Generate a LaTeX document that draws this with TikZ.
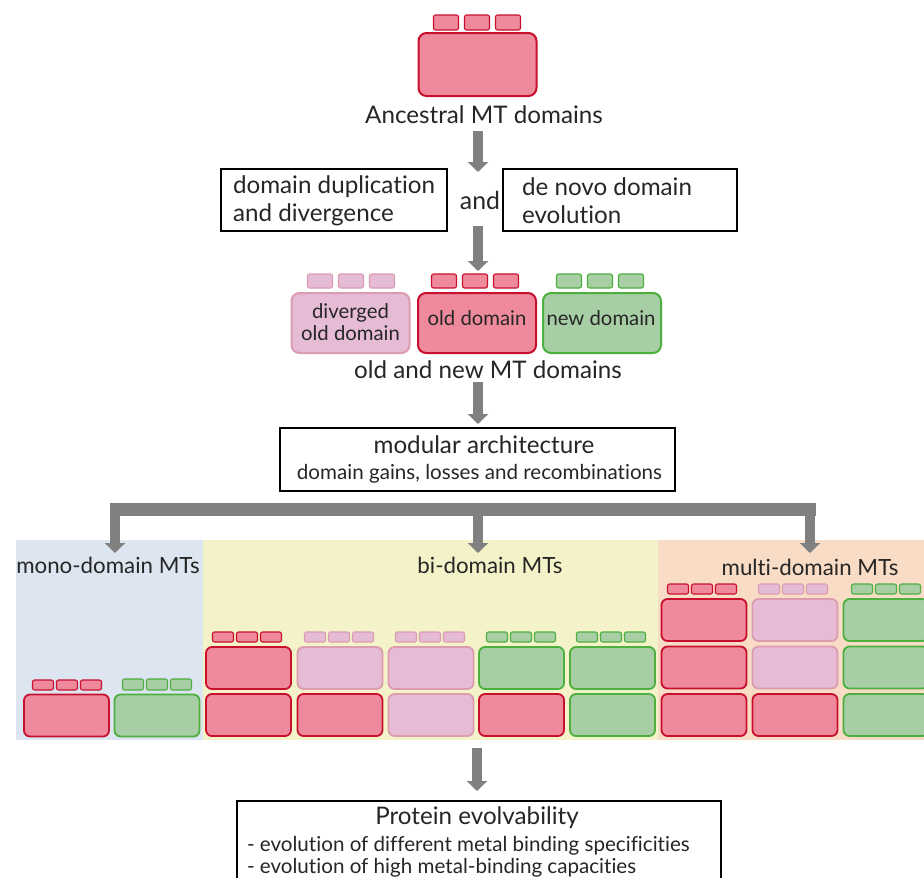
\documentclass[tikz,border=0pt]{standalone}
\usepackage{fontspec}
\setmainfont{Lato}[Ligatures=NoCommon]
\usetikzlibrary{arrows.meta}
\definecolor{redF}{HTML}{EE8A9C}
\definecolor{redD}{HTML}{C8102E}
\definecolor{pinkF}{HTML}{E6BBD6}
\definecolor{pinkD}{HTML}{DC9CB0}
\definecolor{greenF}{HTML}{A7CEA5}
\definecolor{greenD}{HTML}{4CAF3E}
\definecolor{arrowG}{HTML}{808080}
\definecolor{panelB}{HTML}{DCE5F0}
\definecolor{panelY}{HTML}{F4F2C8}
\definecolor{panelO}{HTML}{F9DCC6}
\definecolor{txt}{HTML}{262626}
\newcommand{\tabrow}[6]{%
  \foreach \k in {-1,0,1}{%
    \path[tabb,#1] ({#2+\k*(#4+#6)-0.5*#4},{#3}) rectangle ({#2+\k*(#4+#6)+0.5*#4},{#3-#5});
  }}
\newcommand{\cellat}[4]{\node[cellb,#1] (#2) at (#3,#4) {};}
\begin{document}
\begin{tikzpicture}[x=1pt,y=-1pt,
  every node/.style={inner sep=0pt, outer sep=0pt, text=txt},
  big/.style={line width=2pt, rounded corners=8pt, minimum width=118pt, minimum height=60pt, align=center, font=\fontsize{20.3}{22}\selectfont},
  cellb/.style={line width=1.8pt, rounded corners=6pt, minimum width=85pt, minimum height=42pt},
  tabb/.style={line width=1.1pt, rounded corners=2pt},
  cred/.style={draw=redD, fill=redF},
  cpink/.style={draw=pinkD, fill=pinkF},
  cgreen/.style={draw=greenD, fill=greenF},
  frame/.style={draw=black, line width=1.6pt},
  garrow/.style={draw=arrowG, line width=10pt, -{Triangle[width=20pt,length=10pt]}},
  lbl/.style={font=\fontsize{24.2}{28}\selectfont},
  plbl/.style={font=\fontsize{22.3}{26}\selectfont},
  small/.style={font=\fontsize{20.6}{23}\selectfont},
  intext/.style={font=\fontsize{20.3}{22}\selectfont},
]
\useasboundingbox (0,0) rectangle (924,878);
\clip (0,0) rectangle (924,878);
\fill[white] (0,0) rectangle (924,878);

% panels
\fill[panelB] (16,540) rectangle (203,740);
\fill[panelY] (203,540) rectangle (658,740);
\fill[panelO] (658,540) rectangle (924,740);

% ancestral
\tabrow{cred}{477}{30}{25}{15}{6}
\node[big, cred, minimum height=63pt] (anc) at (477.5,64.5) {};
\node[lbl] (ancl) at (484,115) {Ancestral MT domains};

\coordinate (a1s) at (478,131);
\coordinate (a1e) at (478,172);
\draw[garrow] (a1s) -- (a1e);

% process boxes
\node[frame, minimum width=226pt, minimum height=62pt] (dup) at (334,200) {};
\node[lbl, align=left, anchor=west] (dupt) at (233,201) {domain duplication\\and divergence};
\node[lbl, font=\fontsize{24.8}{28}\selectfont] (andl) at (480,200) {and};
\node[frame, minimum width=234pt, minimum height=62pt] (novo) at (620,200) {};
\node[lbl, align=left, anchor=west] (novot) at (522,201) {de novo domain\\evolution};

\coordinate (a2s) at (478,226);
\coordinate (a2e) at (478,271);
\draw[garrow] (a2s) -- (a2e);

% old and new domains
\tabrow{cpink}{351}{288}{25}{14}{6}
\node[big,cpink] (div) at (350.5,323) {};
\node[intext, align=center] (divt) at (350.5,322) {diverged\\old domain};
\tabrow{cred}{475}{288}{25}{14}{6}
\node[big,cred] (old) at (477,323) {};
\node[intext] (oldt) at (477,318) {old domain};
\tabrow{cgreen}{600}{288}{25}{14}{6}
\node[big,cgreen] (new) at (602,323) {};
\node[intext] (newt) at (601,318) {new domain};
\node[lbl] (onl) at (488,370) {old and new MT domains};

\coordinate (a3s) at (478,382);
\coordinate (a3e) at (478,424);
\draw[garrow] (a3s) -- (a3e);

% modular box
\node[frame, minimum width=395pt, minimum height=63pt] (mod) at (477.5,459.5) {};
\node[lbl] (modt) at (484,445) {modular architecture};
\node[small] (mods) at (479.5,474) {domain gains, losses and recombinations};

% branching connector
\coordinate (bl) at (109.5,509.5);
\coordinate (br) at (815.5,509.5);
\draw[arrowG, line width=13pt] (bl) -- (br);
\coordinate (d1s) at (115,509.5);
\coordinate (d1e) at (115,553);
\coordinate (d2s) at (478,509.5);
\coordinate (d2e) at (478,553);
\coordinate (d3s) at (810,509.5);
\coordinate (d3e) at (810,553);
\draw[garrow] (d1s) -- (d1e);
\draw[garrow] (d2s) -- (d2e);
\draw[garrow] (d3s) -- (d3e);

% panel labels
\node[plbl] (monol) at (108,565) {mono-domain MTs};
\node[plbl] (bil) at (490,565) {bi-domain MTs};
\node[plbl] (multil) at (810,567) {multi-domain MTs};

% mono-domain
\tabrow{cred}{67}{690}{21}{10}{3}
\cellat{cred}{m1}{66.5}{715.5}
\tabrow{cgreen}{157}{690}{21}{11}{3}
\cellat{cgreen}{m2}{157}{715.5}

% bi-domain
\tabrow{cred}{247}{642}{21}{10}{3}
\cellat{cred}{b1t}{248.5}{668}
\cellat{cred}{b1b}{248.5}{715}
\tabrow{cpink}{339}{642}{21}{10}{3}
\cellat{cpink}{b2t}{340}{668}
\cellat{cred}{b2b}{340}{715}
\tabrow{cpink}{430}{642}{21}{10}{3}
\cellat{cpink}{b3t}{431}{668}
\cellat{cpink}{b3b}{431}{715}
\tabrow{cgreen}{521}{642}{21}{10}{3}
\cellat{cgreen}{b4t}{521.5}{668}
\cellat{cred}{b4b}{521.5}{715}
\tabrow{cgreen}{611}{642}{21}{10}{3}
\cellat{cgreen}{b5t}{612.5}{668}
\cellat{cgreen}{b5b}{612.5}{715}

% multi-domain
\tabrow{cred}{702}{594}{21}{10}{3}
\cellat{cred}{t1a}{704}{620}
\cellat{cred}{t1b}{704}{667.5}
\cellat{cred}{t1c}{704}{715}
\tabrow{cpink}{793}{594}{21}{10}{3}
\cellat{cpink}{t2a}{795}{620}
\cellat{cpink}{t2b}{795}{667.5}
\cellat{cred}{t2c}{795}{715}
\tabrow{cgreen}{886}{594}{21}{10}{3}
\cellat{cgreen}{t3a}{886}{620}
\cellat{cgreen}{t3b}{886}{667.5}
\cellat{cgreen}{t3c}{886}{715}

% final arrow and box
\coordinate (a5s) at (477,748);
\coordinate (a5e) at (477,791);
\draw[garrow] (a5s) -- (a5e);
\node[frame, anchor=north west, minimum width=484pt, minimum height=110pt] (prot) at (237,801) {};
\node[lbl] (prott) at (477,818) {Protein evolvability};
\node[small, anchor=west] (l1) at (247,846) {- evolution of different metal binding specificities};
\node[small, anchor=west] (l2) at (247,868) {- evolution of high metal-binding capacities};
\end{tikzpicture}
\end{document}
